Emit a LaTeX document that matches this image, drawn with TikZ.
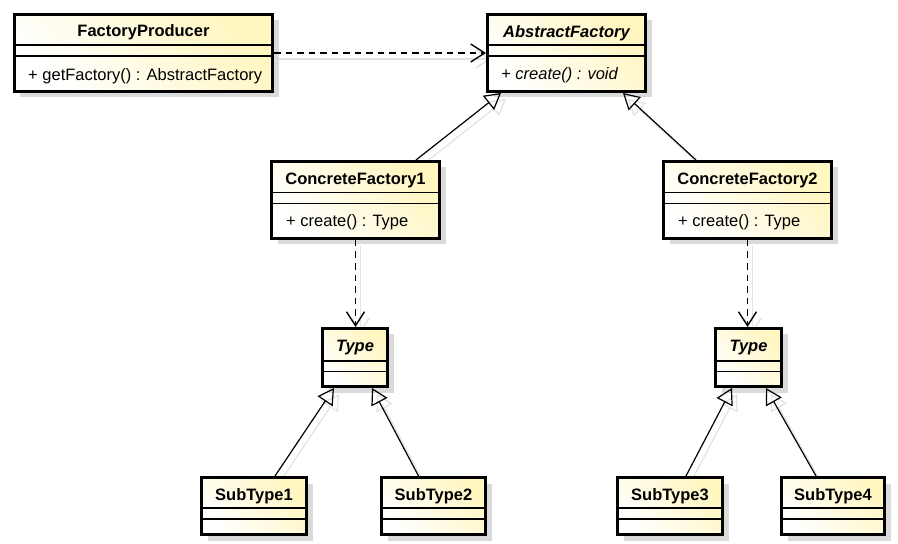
\documentclass[tikz,border=0pt]{standalone}
\usepackage{fontspec}
\setmainfont{Liberation Sans}
\usetikzlibrary{arrows.meta,shadows,calc}
\definecolor{ufill}{HTML}{FFF6C0}
\definecolor{ushadow}{HTML}{DADADA}
\definecolor{lshadow}{HTML}{E2E2E2}
\pgfdeclarelayer{bg}
\pgfsetlayers{bg,main}
\newcommand\umlsize{\fontsize{16.5bp}{19bp}\selectfont}
\newcommand\umlconn[3]{%
  \begin{pgfonlayer}{bg}\draw[#1,lineshadow] #2 -- #3;\end{pgfonlayer}
  \draw[#1] #2 -- #3;}
\begin{document}
\begin{tikzpicture}[x=1bp,y=-1bp,
  font=\umlsize,
  cls/.style={draw=black, line width=3bp, inner sep=0pt,
    top color=ufill, bottom color=white, shading angle=-45,
    drop shadow={shadow xshift=6bp, shadow yshift=-6bp, fill=ushadow, opacity=1}},
  sepline/.style={draw=black, line width=1.5bp},
  ttl/.style={font=\umlsize\bfseries, inner sep=0pt, anchor=base},
  ittl/.style={font=\umlsize\bfseries\itshape, inner sep=0pt, anchor=base},
  mth/.style={font=\umlsize, inner sep=0pt, anchor=base west},
  imth/.style={font=\umlsize\itshape, inner sep=0pt, anchor=base west},
  dep/.style={draw=black, line width=1.2bp, dash pattern=on 6.5bp off 5bp,
    -{Straight Barb[length=14bp, width=18bp, line width=1.4bp]}},
  gen/.style={draw=black, line width=1.2bp,
    -{Triangle[open, length=16bp, width=18bp, line width=1.2bp]}},
  lineshadow/.style={draw=lshadow, solid, transform canvas={shift={(5bp,-6bp)}}}
]
\useasboundingbox (0,0) rectangle (898,544);

% FactoryProducer
\node[cls, minimum width=258bp, minimum height=77bp] (fp) at (143.5,53) {};
\draw[sepline] (fp.west |- 0,45) -- (fp.east |- 0,45);
\draw[sepline] (fp.west |- 0,56) -- (fp.east |- 0,56);
\node[ttl] (fpt) at (143.5,37) {FactoryProducer};
\node[mth] (fpm) at (28,81) {+ getFactory() : AbstractFactory};

% AbstractFactory
\node[cls, minimum width=158bp, minimum height=77bp] (af) at (566.5,53) {};
\draw[sepline] (af.west |- 0,45) -- (af.east |- 0,45);
\draw[sepline] (af.west |- 0,56) -- (af.east |- 0,56);
\node[ittl] (aft) at (566.5,38) {AbstractFactory};
\node[imth] (afm) at (501,80) {+ create() : void};

% ConcreteFactory1
\node[cls, minimum width=168bp, minimum height=77bp] (cf1) at (355.5,200) {};
\draw[sepline] (cf1.west |- 0,192.7) -- (cf1.east |- 0,192.7);
\draw[sepline] (cf1.west |- 0,203.3) -- (cf1.east |- 0,203.3);
\node[ttl] (cf1t) at (355.5,185) {ConcreteFactory1};
\node[mth] (cf1m) at (286,227) {+ create() : Type};

% ConcreteFactory2
\node[cls, minimum width=168bp, minimum height=77bp] (cf2) at (747.5,200) {};
\draw[sepline] (cf2.west |- 0,192.7) -- (cf2.east |- 0,192.7);
\draw[sepline] (cf2.west |- 0,203.3) -- (cf2.east |- 0,203.3);
\node[ttl] (cf2t) at (747.5,185) {ConcreteFactory2};
\node[mth] (cf2m) at (678,227) {+ create() : Type};

% Type (left)
\node[cls, minimum width=65bp, minimum height=58bp] (t1) at (355,357.5) {};
\draw[sepline] (t1.west |- 0,361) -- (t1.east |- 0,361);
\draw[sepline] (t1.west |- 0,371.5) -- (t1.east |- 0,371.5);
\node[ittl] (t1t) at (355,352) {Type};

% Type (right)
\node[cls, minimum width=66bp, minimum height=58bp] (t2) at (748.5,357.5) {};
\draw[sepline] (t2.west |- 0,361) -- (t2.east |- 0,361);
\draw[sepline] (t2.west |- 0,371.5) -- (t2.east |- 0,371.5);
\node[ittl] (t2t) at (748.5,352) {Type};

% SubTypes
\node[cls, minimum width=105bp, minimum height=57bp] (s1) at (254,506) {};
\node[cls, minimum width=104bp, minimum height=57bp] (s2) at (433.5,506) {};
\node[cls, minimum width=105bp, minimum height=57bp] (s3) at (670,506) {};
\node[cls, minimum width=103bp, minimum height=57bp] (s4) at (833,506) {};
\foreach \s in {s1,s2,s3,s4}{
  \draw[sepline] (\s.west |- 0,508) -- (\s.east |- 0,508);
  \draw[sepline] (\s.west |- 0,519) -- (\s.east |- 0,519);
}
\node[ttl] (s1t) at (254,500) {SubType1};
\node[ttl] (s2t) at (433.5,500) {SubType2};
\node[ttl] (s3t) at (670,500) {SubType3};
\node[ttl] (s4t) at (833,500) {SubType4};

% connectors
\umlconn{dep}{(fp)}{(af)}
\umlconn{gen}{([xshift=-25bp]cf1.north east)}{([xshift=15bp]af.south west)}
\umlconn{gen}{([xshift=34bp]cf2.north west)}{([xshift=-24bp]af.south east)}
\umlconn{dep}{(cf1.south)}{(cf1.south |- t1.north)}
\umlconn{dep}{(cf2.south)}{(cf2.south |- t2.north)}
\umlconn{gen}{([xshift=21bp]s1.north)}{([xshift=13bp]t1.south west)}
\umlconn{gen}{([xshift=-15bp]s2.north)}{([xshift=-17bp]t1.south east)}
\umlconn{gen}{([xshift=16bp]s3.north)}{([xshift=18bp]t2.south west)}
\umlconn{gen}{([xshift=-17bp]s4.north)}{([xshift=-17bp]t2.south east)}
\end{tikzpicture}
\end{document}
